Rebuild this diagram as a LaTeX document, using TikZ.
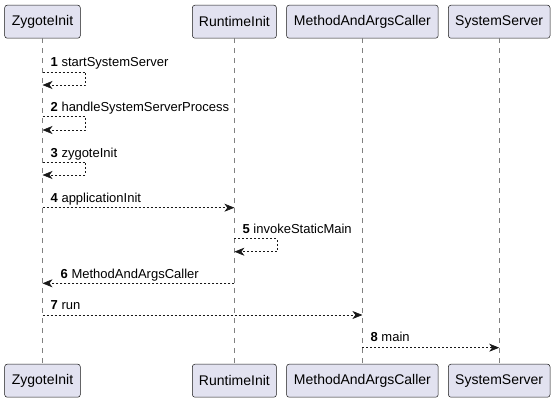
\documentclass[tikz,border=0pt]{standalone}
\usepackage{fontspec}
\setmainfont{Liberation Sans}
\usetikzlibrary{arrows.meta}
\definecolor{partfill}{HTML}{E2E2F0}
\definecolor{partline}{HTML}{181818}
\begin{document}
\begin{tikzpicture}[x=1pt,y=-1pt,
    participant/.style={draw=partline,fill=partfill,rounded corners=2.5pt,
      minimum height=33pt,inner sep=0pt,line width=0.5pt,
      font=\fontsize{14}{16}\selectfont},
    lifeline/.style={draw=partline!55,dash pattern=on 5pt off 5pt,line width=0.5pt},
    msg/.style={draw=partline,dash pattern=on 2pt off 2pt,line width=0.6pt,
      -{Stealth[length=10pt,width=8pt,inset=3pt]}},
    msglabel/.style={anchor=base west,inner sep=0pt,xshift=8pt,
      font=\fontsize{13}{15}\selectfont}]
    \useasboundingbox (0,0) rectangle (555,402);

    % Participants, top and bottom
    \node[participant,minimum width=75.6pt] (zt) at (42.5,21.7) {ZygoteInit};
    \node[participant,minimum width=84pt] (rt) at (234.4,21.7) {RuntimeInit};
    \node[participant,minimum width=151.6pt] (mt) at (362.4,21.7) {MethodAndArgsCaller};
    \node[participant,minimum width=101.6pt] (st) at (499.2,21.7) {SystemServer};
    \node[participant,minimum width=75.6pt] (zb) at (42.5,380.7) {ZygoteInit};
    \node[participant,minimum width=84pt] (rb) at (234.4,380.7) {RuntimeInit};
    \node[participant,minimum width=151.6pt] (mb) at (362.4,380.7) {MethodAndArgsCaller};
    \node[participant,minimum width=101.6pt] (sb) at (499.2,380.7) {SystemServer};

    % Lifelines
    \draw[lifeline] (zt.south) -- (zb.north);
    \draw[lifeline] (rt.south) -- (rb.north);
    \draw[lifeline] (mt.south) -- (mb.north);
    \draw[lifeline] (st.south) -- (sb.north);

    % 1 startSystemServer
    \node[msglabel] (l1) at (zt |- 0,66.7) {\textbf{1} startSystemServer};
    \draw[msg] (zt |- 0,72) -- ++(43,0) -- ++(0,13) -- (zt |- 0,85);

    % 2 handleSystemServerProcess
    \node[msglabel] (l2) at (zt |- 0,111.7) {\textbf{2} handleSystemServerProcess};
    \draw[msg] (zt |- 0,116.7) -- ++(43,0) -- ++(0,13.3) -- (zt |- 0,130);

    % 3 zygoteInit
    \node[msglabel] (l3) at (zt |- 0,157.3) {\textbf{3} zygoteInit};
    \draw[msg] (zt |- 0,162.3) -- ++(43,0) -- ++(0,12.7) -- (zt |- 0,175);

    % 4 applicationInit
    \node[msglabel] (l4) at (zt |- 0,202.3) {\textbf{4} applicationInit};
    \draw[msg] (zt |- 0,207.7) -- (rt |- 0,207.7);

    % 5 invokeStaticMain
    \node[msglabel] (l5) at (rt |- 0,233.3) {\textbf{5} invokeStaticMain};
    \draw[msg] (rt |- 0,238.3) -- ++(42.5,0) -- ++(0,13.4) -- (rt |- 0,251.7);

    % 6 MethodAndArgsCaller
    \node[msglabel,xshift=10pt] (l6) at (zt |- 0,278.3) {\textbf{6} MethodAndArgsCaller};
    \draw[msg] (rt |- 0,283.3) -- (zt |- 0,283.3);

    % 7 run
    \node[msglabel] (l7) at (zt |- 0,309.7) {\textbf{7} run};
    \draw[msg] (zt |- 0,315) -- (mt |- 0,315);

    % 8 main
    \node[msglabel] (l8) at (mt |- 0,341.7) {\textbf{8} main};
    \draw[msg] (mt |- 0,347.7) -- (st |- 0,347.7);
\end{tikzpicture}
\end{document}
